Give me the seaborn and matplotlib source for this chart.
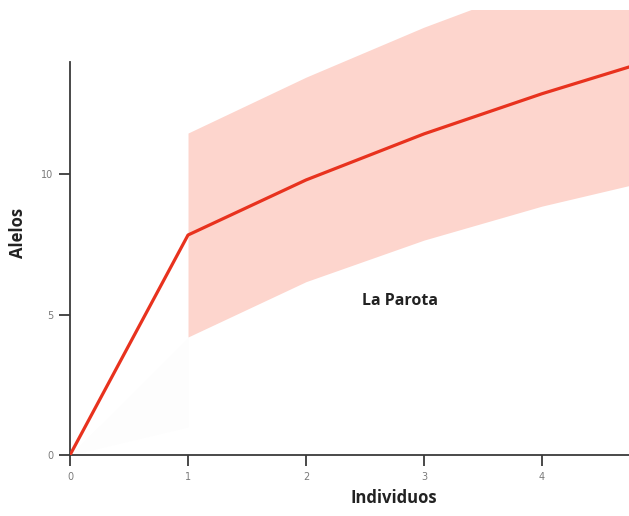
import matplotlib
matplotlib.use("Agg")
import matplotlib.pyplot as plt
import seaborn as sns
import numpy as np
import pandas as pd

# Rarefaction curve: expected alleles vs number of individuals
individuos = [0, 1, 2, 3, 4, 5]
alelos = [0.0, 7.83, 9.79, 11.43, 12.86, 14.15]
ic_inferior = [0.0, 4.20, 6.17, 7.65, 8.86, 9.85]
ic_superior = [0.0, 11.46, 13.45, 15.23, 16.80, 18.20]
# faint interpolation envelope between 0 and 1 individual
interp_x = [0, 1]
interp_low = [0.0, 1.0]
interp_high = [0.0, 4.2]

x_ticks = [0, 1, 2, 3, 4]
y_ticks = [0, 5, 10]
sitio = "La Parota"

df = pd.DataFrame({"Individuos": individuos, "Alelos": alelos,
                   "low": ic_inferior, "high": ic_superior})

sns.set_theme(style="white")
plt.rcParams["font.family"] = ["DejaVu Sans"]

fig = plt.figure(figsize=(6.29, 5.16), dpi=100)
ax = fig.add_axes([70 / 629, 1 - 455 / 516, 1 - 70 / 629, (455 - 10) / 516])

band = df[df["Individuos"] >= 1]
ax.fill_between(band["Individuos"], band["low"], band["high"],
                color="#fdd5cd", linewidth=0, zorder=1)
ax.fill_between(interp_x, interp_low, interp_high,
                color="#fdfdfd", linewidth=0, zorder=1)

sns.lineplot(data=df, x="Individuos", y="Alelos", ax=ax,
             color="#e8321e", linewidth=2.3, zorder=3)

ax.set_xlim(0, 4.737)
ax.set_ylim(0, 15.84)
ax.set_xticks(x_ticks)
ax.set_yticks(y_ticks)
ax.set_xticklabels([str(v) for v in x_ticks])
ax.set_yticklabels([str(v) for v in y_ticks])

for side in ("top", "right"):
    ax.spines[side].set_visible(False)
for side in ("left", "bottom"):
    ax.spines[side].set_color("#3a3a3a")
    ax.spines[side].set_linewidth(1.3)
ax.spines["left"].set_bounds(0, 14)

ax.tick_params(axis="both", which="major", direction="out", length=8,
               width=1.3, color="#3a3a3a", labelsize=7, labelcolor="#7a7a7a",
               pad=4, bottom=True, left=True)

label_font = ["Open Sans", "DejaVu Sans"]
ax.set_xlabel("Individuos", fontsize=12, fontweight="bold",
              fontfamily=label_font, color="#222222")
ax.set_ylabel("Alelos", fontsize=12, fontweight="bold",
              fontfamily=label_font, color="#222222")
ax.xaxis.set_label_coords((394 - 70) / 559, -0.077)
ax.yaxis.set_label_coords(-0.077, 0.5)

ax.text(2.8, 5.48, sitio, fontsize=11.5, fontweight="bold",
        fontfamily=label_font, color="#222222",
        ha="center", va="center", zorder=4)

fig.savefig("out.png", dpi=100)
